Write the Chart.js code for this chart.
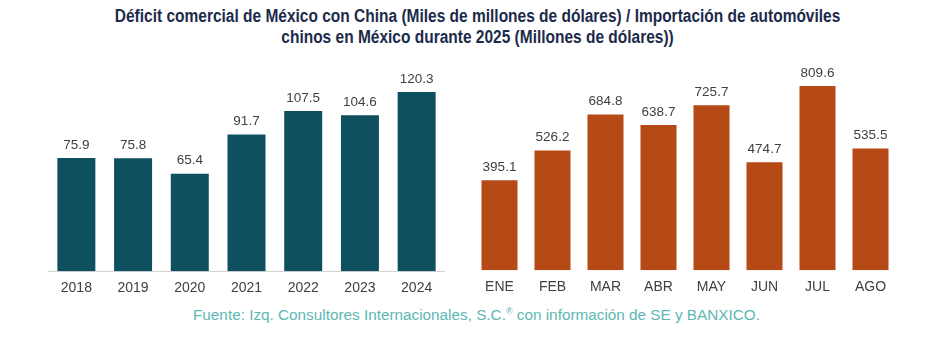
<!DOCTYPE html>
<html>
<head>
<meta charset="utf-8">
<script src="https://cdn.jsdelivr.net/npm/chart.js@4.4.1/dist/chart.umd.min.js"></script>
<style>
  body { margin: 0; background: #fff; width: 927px; height: 338px; position: relative; overflow: hidden; }
  #title { position: absolute; left: 0; top: 6px; width: 955px; text-align: center;
    font-family: "Liberation Sans", Arial, sans-serif;
    font-weight: bold; font-size: 17.5px; line-height: 21px; color: #1c2b4b;
    transform: scaleX(0.885); transform-origin: 478px 0; }
  #src { position: absolute; left: 0; top: 306px; width: 953px; text-align: center;
    font-family: "Liberation Sans", Arial, sans-serif; font-size: 15.3px; color: #5cb8b2; }
  #src sup { font-size: 9px; vertical-align: 6px; line-height: 0; }
  .box { position: absolute; }
</style>
</head>
<body>
<div id="title">Déficit comercial de México con China (Miles de millones de dólares) / Importación de automóviles<br>chinos en México durante 2025 (Millones de dólares))</div>
<div class="box" style="left:48px; top:60px; width:397px; height:246px;"><canvas id="left"></canvas></div>
<div class="box" style="left:473px; top:56px; width:424px; height:249px;"><canvas id="right"></canvas></div>
<div id="src">Fuente: Izq. Consultores Internacionales, S.C.<sup>®</sup> con información de SE y BANXICO.</div>
<script>
const years = ["2018", "2019", "2020", "2021", "2022", "2023", "2024"];
const deficit = [75.9, 75.8, 65.4, 91.7, 107.5, 104.6, 120.3];
const months = ["ENE", "FEB", "MAR", "ABR", "MAY", "JUN", "JUL", "AGO"];
const autos = [395.1, 526.2, 684.8, 638.7, 725.7, 474.7, 809.6, 535.5];

// draws the value above each bar
const valueLabels = {
    id: "valueLabels",
    afterDatasetsDraw(chart) {
        const ctx = chart.ctx;
        const meta = chart.getDatasetMeta(0);
        const vals = chart.data.datasets[0].data;
        ctx.save();
        ctx.font = "13.5px 'Liberation Sans', Arial, sans-serif";
        ctx.fillStyle = "#404040";
        ctx.textAlign = "center";
        ctx.textBaseline = "middle";
        meta.data.forEach((bar, i) => {
            ctx.fillText(vals[i].toFixed(1), bar.x, bar.y - 13);
        });
        ctx.restore();
    }
};

function barChart(id, labels, data, color, ymax, barPct, border, padTop) {
    return new Chart(document.getElementById(id), {
        type: "bar",
        data: {
            labels: labels,
            datasets: [{ data: data, backgroundColor: color, barPercentage: barPct, categoryPercentage: 1 }]
        },
        options: {
            responsive: true,
            maintainAspectRatio: false,
            animation: false,
            layout: { padding: { top: padTop, left: 0, right: 0, bottom: 0 } },
            plugins: { legend: { display: false }, tooltip: { enabled: false } },
            scales: {
                x: {
                    grid: { display: false, drawTicks: false },
                    border: { display: border, color: "#d4d4d4", width: 1 },
                    ticks: { color: "#404040", padding: 9, font: { size: 14, family: "'Liberation Sans', Arial, sans-serif" } }
                },
                y: { display: false, min: 0, max: ymax }
            }
        },
        plugins: [valueLabels]
    });
}

barChart("left", years, deficit, "#0f5060", 135, 0.67, true, 10);
barChart("right", months, autos, "#b54a17", 876, 0.68, false, 15);
</script>
</body>
</html>
